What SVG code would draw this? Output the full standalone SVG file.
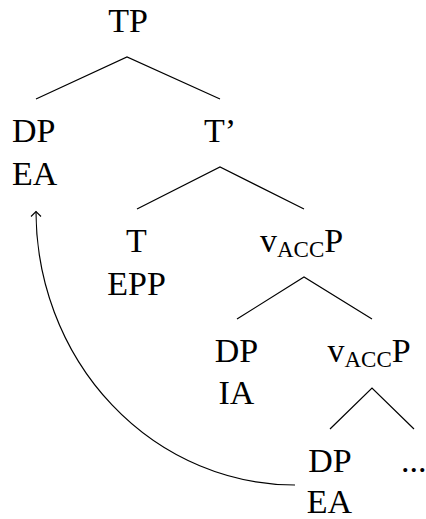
<svg xmlns="http://www.w3.org/2000/svg" width="426" height="519" viewBox="0 0 426 519" font-family="'Liberation Serif', 'Times New Roman', Times, serif">
<style>
text{font-family:'Liberation Serif','Times New Roman',Times,serif;font-size:34px;fill:#000}
.sub{font-size:23px}
.edge{stroke:#000;stroke-width:1.2;fill:none}
</style>
<defs>
<marker id="ah" markerUnits="userSpaceOnUse" markerWidth="12" markerHeight="12" viewBox="-6 -6 12 12" refX="0" refY="0" orient="auto">
<path d="M-5,-5 L0,0 L-5,5" fill="none" stroke="#000" stroke-width="1.1"/>
</marker>
</defs>
<rect width="426" height="519" fill="#fff"/>
<g id="connectors">
<path class="edge" d="M36,99 L127,57 L220,99"/>
<path class="edge" d="M137,209 L220,167 L304,209"/>
<path class="edge" d="M237,319 L304,277 L372,319"/>
<path class="edge" d="M330,429 L372,388 L414,429"/>
<path class="edge" d="M295,485 A259,274 0 0 1 36,211.5" marker-end="url(#ah)"/>
</g>
<g id="TP"><text x="128" y="32" text-anchor="middle">TP</text></g>
<g id="DP_EA_top"><text x="12" y="142">DP</text><text x="12" y="185">EA</text></g>
<g id="Tbar"><text x="204" y="142">T’</text></g>
<g id="T"><text x="136.5" y="252" text-anchor="middle">T</text><text x="136.5" y="295" text-anchor="middle">EPP</text></g>
<g id="vACCP1"><text x="260" y="252">v<tspan class="sub" dy="5">ACC</tspan><tspan dy="-5">P</tspan></text></g>
<g id="DP_IA"><text x="236.5" y="362" text-anchor="middle">DP</text><text x="236.5" y="404" text-anchor="middle">IA</text></g>
<g id="vACCP2"><text x="327.5" y="362">v<tspan class="sub" dy="5">ACC</tspan><tspan dy="-5">P</tspan></text></g>
<g id="DP_EA_low"><text x="330" y="472" text-anchor="middle">DP</text><text x="329.5" y="513" text-anchor="middle">EA</text></g>
<g id="dots"><text x="401" y="472">...</text></g>
</svg>
